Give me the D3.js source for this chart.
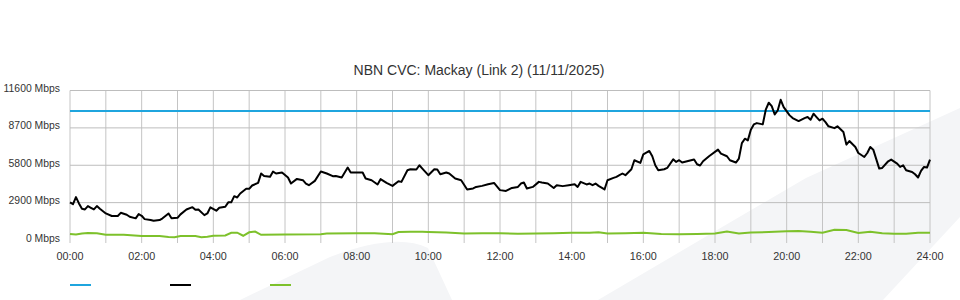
<!DOCTYPE html>
<html>
<head>
<meta charset="utf-8">
<script src="https://cdn.jsdelivr.net/npm/d3@7"></script>
<style>
	body { margin: 0; background: #fff; }
	svg { display: block; font-family: "Liberation Sans", Arial, sans-serif; }
</style>
</head>
<body>
<svg id="chart" width="960" height="300"></svg>
<script>
const title = "NBN CVC: Mackay (Link 2) (11/11/2025)";
const y_ticks = [0, 2900, 5800, 8700, 11600];
const x_ticks = ["00:00", "02:00", "04:00", "06:00", "08:00", "10:00", "12:00", "14:00", "16:00", "18:00", "20:00", "22:00", "24:00"];
const capacity_mbps = 10000;

// black series (traffic)
const traffic_times = ["00:00","00:05","00:10","00:15","00:20","00:25","00:30","00:35","00:40","00:45","00:50","01:00","01:10","01:20","01:25","01:35","01:40","01:50","01:55","02:00","02:05","02:15","02:20","02:30","02:35","02:45","02:50","03:00","03:05","03:15","03:25","03:30","03:35","03:45","03:50","03:55","04:05","04:10","04:20","04:25","04:30","04:35","04:40","04:45","04:55","05:00","05:05","05:15","05:20","05:25","05:35","05:40","05:45","05:55","06:05","06:10","06:20","06:30","06:35","06:40","06:50","07:00","07:05","07:10","07:20","07:25","07:35","07:45","07:50","08:00","08:10","08:15","08:25","08:35","08:40","08:50","09:00","09:10","09:15","09:25","09:30","09:40","09:45","09:50","10:00","10:10","10:15","10:20","10:30","10:35","10:45","10:55","11:05","11:15","11:20","11:30","11:40","11:50","12:00","12:10","12:20","12:30","12:35","12:40","12:45","12:55","13:05","13:10","13:20","13:30","13:35","13:45","13:55","14:05","14:10","14:15","14:25","14:30","14:35","14:40","14:45","14:55","15:00","15:10","15:15","15:20","15:25","15:30","15:40","15:45","15:55","16:00","16:10","16:15","16:20","16:25","16:35","16:40","16:50","16:55","17:00","17:05","17:15","17:25","17:30","17:35","17:40","17:50","18:05","18:10","18:20","18:25","18:35","18:40","18:45","18:50","18:55","19:00","19:05","19:10","19:20","19:25","19:30","19:35","19:40","19:45","19:50","19:55","20:05","20:10","20:20","20:30","20:35","20:40","20:45","20:50","20:55","21:00","21:05","21:10","21:20","21:25","21:35","21:40","21:45","21:55","22:00","22:10","22:15","22:20","22:25","22:35","22:40","22:50","22:55","23:05","23:10","23:15","23:20","23:30","23:35","23:40","23:45","23:50","23:55","24:00"];
const traffic_mbps = [2920,2780,3330,2840,2420,2370,2630,2500,2370,2630,2420,2060,1860,1860,2110,1960,1800,1680,2010,1880,1620,1550,1490,1550,1680,2060,1680,1720,1990,2370,2550,2340,2370,1930,2060,2530,2270,2500,2580,2920,2920,3400,3300,3610,3970,3970,4230,4430,5160,4970,4900,5310,5160,5240,4850,4380,4740,4640,4380,4250,4590,5310,5240,5160,4950,4970,4850,5620,5240,5240,5240,4770,4640,4310,4720,4430,4200,4560,4510,5410,5490,5470,5800,5540,5030,5490,5470,5100,5240,5160,4770,4640,3920,4000,4120,4200,4330,4430,3870,3810,4040,4120,4380,4460,4000,4120,4510,4460,4380,4040,4250,4180,4250,4330,4120,4510,4310,4380,4250,4380,4200,3920,4640,4820,4900,5030,5160,5030,5490,6190,5980,6650,6910,6500,5800,5410,5490,5590,6260,6060,6190,6010,6130,6240,5880,5780,6110,6500,7010,6700,6500,6190,6010,6320,7520,7860,7730,8560,8970,9070,8970,10110,10650,10390,9740,10050,10880,10310,9670,9460,9230,9460,9540,9330,9800,9540,9280,9410,9150,8820,8680,8820,8380,7400,7680,7220,6750,6440,6750,7220,7010,5540,5590,6110,6240,5930,5670,5800,5410,5280,5100,4850,5360,5670,5620,6240];

// green series
const other_times = ["00:00","00:10","00:20","00:30","00:45","01:00","01:30","02:00","02:30","02:45","02:55","03:05","03:30","03:40","03:50","04:00","04:20","04:30","04:40","04:50","05:00","05:10","05:20","06:00","07:00","07:10","08:00","08:30","09:00","09:10","09:30","09:50","10:00","10:30","11:00","11:30","12:00","12:30","13:00","13:30","14:00","14:30","14:45","15:00","15:30","16:00","16:30","17:00","17:30","18:00","18:20","18:40","19:00","19:30","20:00","20:20","20:40","21:00","21:20","21:40","22:00","22:20","22:40","23:00","23:20","23:40","24:00"];
const other_mbps = [470,420,500,540,520,400,400,310,310,230,210,310,310,210,260,330,350,560,570,330,600,650,400,420,440,500,530,530,450,620,640,640,620,580,500,520,520,490,510,520,560,560,600,500,520,560,460,440,460,500,650,500,580,620,680,700,640,560,790,780,540,640,520,480,480,560,560];

const legend_colors = ["#1fa5de", "#000000", "#7dc12b"];

const toMin = (t) => { let p = t.split(":"); return (+p[0]) * 60 + (+p[1]); };

const svg = d3.select("#chart");
const plot_left = 70, plot_right = 930, plot_top = 90.5, plot_bottom = 240;

// background swoosh
svg.append("path")
	.attr("d", "M240,300 L330,257 Q395,232 428,248 L452,300 Z")
	.style("fill", "#f4f5f7");
svg.append("path")
	.attr("d", "M960,108 L806,178 L729,223 L598,300 L883,300 L960,217 Z")
	.style("fill", "#f4f5f7");

const x = d3.scaleLinear().domain([0, 1440]).range([plot_left, plot_right]);
const y = d3.scaleLinear().domain([0, 11600]).range([plot_bottom, plot_top]);

// grid
svg.append("g").selectAll("line").data(d3.range(0, 1441, 60)).enter()
	.append("line")
	.attr("x1", d => x(d)).attr("x2", d => x(d))
	.attr("y1", plot_top).attr("y2", plot_bottom + 3)
	.style("stroke", "#c4c4c4").style("stroke-width", 1);
svg.append("g").selectAll("line").data(y_ticks.filter(d => d > 0)).enter()
	.append("line")
	.attr("x1", plot_left).attr("x2", plot_right)
	.attr("y1", d => y(d)).attr("y2", d => y(d))
	.style("stroke", "#bdbdbd").style("stroke-width", 1);

// axis labels
svg.append("g").selectAll("text").data(y_ticks).enter()
	.append("text")
	.attr("x", 60).attr("y", d => y(d) + 1.5)
	.attr("text-anchor", "end")
	.style("font-size", "10.4px").style("fill", "#333")
	.text(d => d + " Mbps");
svg.append("g").selectAll("text").data(x_ticks).enter()
	.append("text")
	.attr("x", d => x(toMin(d))).attr("y", 260)
	.attr("text-anchor", "middle")
	.style("font-size", "10.8px").style("fill", "#333")
	.text(d => d);

svg.append("text")
	.attr("x", 479).attr("y", 74.5)
	.attr("text-anchor", "middle")
	.style("font-size", "14px").style("fill", "#333")
	.text(title);

const line = d3.line().x(d => x(d[0])).y(d => y(d[1]));

svg.append("path")
	.datum([[0, capacity_mbps], [1440, capacity_mbps]])
	.attr("d", line)
	.style("fill", "none").style("stroke", legend_colors[0]).style("stroke-width", 2);

svg.append("path")
	.datum(other_times.map((t, i) => [toMin(t), other_mbps[i]]))
	.attr("d", line)
	.style("fill", "none").style("stroke", legend_colors[2]).style("stroke-width", 2);

svg.append("path")
	.datum(traffic_times.map((t, i) => [toMin(t), traffic_mbps[i]]))
	.attr("d", line)
	.style("fill", "none").style("stroke", legend_colors[1]).style("stroke-width", 2)
	.style("stroke-linejoin", "round");

// legend (no labels)
svg.append("g").selectAll("line").data(legend_colors).enter()
	.append("line")
	.attr("x1", (c, i) => 70 + i * 100).attr("x2", (c, i) => 91 + i * 100)
	.attr("y1", 285).attr("y2", 285)
	.style("stroke", c => c).style("stroke-width", 2);
</script>
</body>
</html>
